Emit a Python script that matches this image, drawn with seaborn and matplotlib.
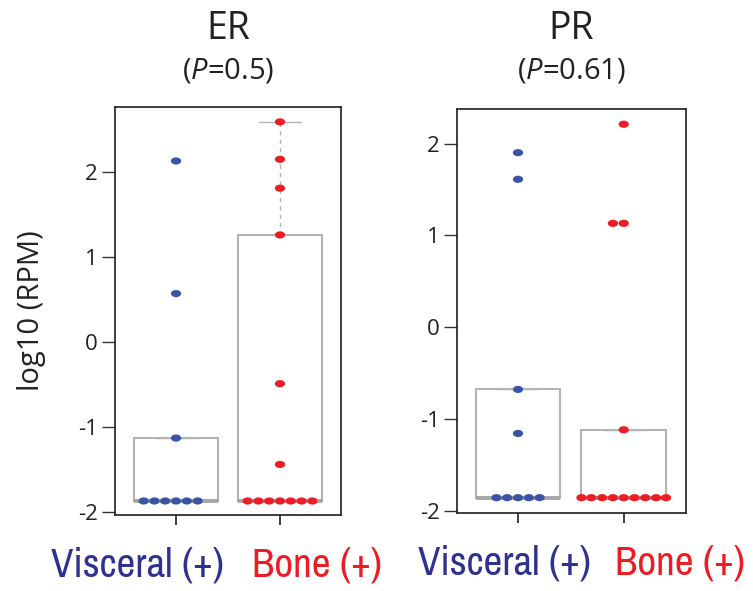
import matplotlib
matplotlib.use("Agg")
import matplotlib.pyplot as plt
from matplotlib import font_manager
from matplotlib.path import Path
from matplotlib.markers import MarkerStyle
from matplotlib.transforms import Affine2D, ScaledTranslation
import numpy as np
import pandas as pd
import seaborn as sns

# ---- data: log10(RPM) per sample ----
groups = ["Visceral (+)", "Bone (+)"]
er_visceral = [-1.87, -1.87, -1.87, -1.87, -1.87, -1.87, -1.13, 0.57, 2.13]
er_bone = [-1.87, -1.87, -1.87, -1.87, -1.87, -1.87, -1.87, -1.44, -0.49, 1.26, 1.81, 2.15, 2.59]
pr_visceral = [-1.86, -1.86, -1.86, -1.86, -1.86, -1.16, -0.68, 1.61, 1.90]
pr_bone = [-1.86, -1.86, -1.86, -1.86, -1.86, -1.86, -1.86, -1.86, -1.86, -1.12, 1.13, 1.13, 2.21]
panel_titles = ["ER", "PR"]
p_values = ["0.5", "0.61"]
y_ticks = [-2, -1, 0, 1, 2]

dot_colors = {"Visceral (+)": "#3a54a5", "Bone (+)": "#ee1d25"}
label_colors = ["#2e3192", "#ed1c24"]


def long_table(visceral, bone):
    return pd.DataFrame({
        "group": [groups[0]] * len(visceral) + [groups[1]] * len(bone),
        "value": list(visceral) + list(bone),
    })


tables = [long_table(er_visceral, er_bone), long_table(pr_visceral, pr_bone)]

sns.set_theme(style="white")
plt.rcParams["font.family"] = ["Open Sans", "DejaVu Sans"]
plt.rcParams["mathtext.fontset"] = "custom"
plt.rcParams["mathtext.rm"] = "Open Sans"
plt.rcParams["mathtext.it"] = "Open Sans:italic"

# group labels use a narrow face when one is installed
narrow_family = None
for f in font_manager.fontManager.ttflist:
    if f.style != "normal" or f.weight not in (400, "normal", "regular"):
        continue
    n = f.name.lower()
    if "narrow" in n or "condensed" in n:
        narrow_family = f.name
        break
if narrow_family is not None:
    group_font = dict(family=[narrow_family, "Open Sans"], fontsize=29.5)
else:
    group_font = dict(family=["Open Sans", "DejaVu Sans"], fontsize=24)

fig = plt.figure(figsize=(7.53, 5.91), dpi=100)
axes = [
    fig.add_axes([115 / 753, 76 / 591, 226 / 753, 408 / 591]),
    fig.add_axes([457 / 753, 78 / 591, 229 / 753, 404 / 591]),
]
xlims = [(-0.587, 1.587), (-0.577, 1.589)]
ylims = [(-2.035, 2.765), (-2.027, 2.376)]
# horizontal shift (px) of each group label away from its tick
label_shift = [(-39, 37), (-14, 56)]

# flattened ellipse marker for the dots
ellipse = MarkerStyle(Affine2D().scale(1.0, 0.7).transform_path(Path.unit_circle()))

box_grey = "#b3b3b3"
spine_col = "#1e1e1e"

for i, (ax, df, title, pval, xl, yl) in enumerate(zip(axes, tables, panel_titles, p_values, xlims, ylims)):
    sns.boxplot(
        data=df, x="group", y="value", order=groups, ax=ax,
        width=0.8, showfliers=False, whis=1.5,
        color="white", linecolor=box_grey, linewidth=1.5,
        medianprops=dict(color="#a6a6a6", linewidth=2.8),
        whiskerprops=dict(color=box_grey, linewidth=1.0, linestyle=(0, (3, 3))),
        capprops=dict(color=box_grey, linewidth=1.0),
    )
    sns.swarmplot(
        data=df, x="group", y="value", order=groups, hue="group",
        palette=dot_colors, legend=False, ax=ax,
        size=7.4, marker=ellipse, linewidth=0, warn_thresh=1.0,
    )
    ax.set_xlim(*xl)
    ax.set_ylim(*yl)
    ax.set_yticks(y_ticks)
    ax.set_yticklabels([str(t) for t in y_ticks], fontsize=16, color="#222222")
    ax.set_xlabel("")
    ax.set_ylabel("")
    for s in ax.spines.values():
        s.set_visible(True)
        s.set_color(spine_col)
        s.set_linewidth(1.2)
    ax.tick_params(axis="y", direction="out", length=9.5, width=1.0, color="#333333", pad=3, left=True)
    ax.tick_params(axis="x", direction="out", length=7, width=1.2, color=spine_col, pad=16, bottom=True)
    ax.set_xticks([0, 1])
    ax.set_xticklabels(groups, **group_font)
    for lab, c, dx in zip(ax.get_xticklabels(), label_colors, label_shift[i]):
        lab.set_color(c)
        lab.set_transform(lab.get_transform() + ScaledTranslation(dx / 100, 0, fig.dpi_scale_trans))
    ax.grid(False)

    top_px = 107 if i == 0 else 109
    h_px = 408 if i == 0 else 404
    ax.text(0.5, 1 + (top_px - 29) / h_px, title, transform=ax.transAxes,
            ha="center", va="center", fontsize=27, color="#222222")
    ax.text(0.5, 1 + (top_px - 71) / h_px, "(" + r"$\mathit{P}$" + "=" + pval + ")",
            transform=ax.transAxes, ha="center", va="center", fontsize=21, color="#222222")

axes[0].set_ylabel("log10 (RPM)", fontsize=21, color="#222222", labelpad=23)

fig.savefig("out.png", dpi=100, facecolor="white")
